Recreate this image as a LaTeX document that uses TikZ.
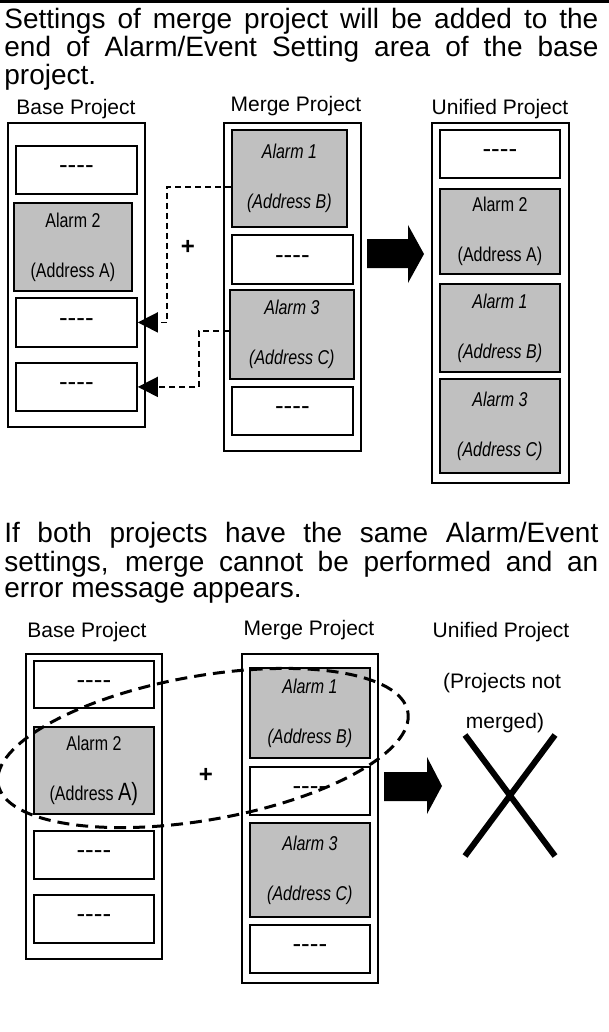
\documentclass[tikz,border=0pt]{standalone}
\usepackage{fontspec}
\setmainfont{Liberation Sans}
\newfontfamily\narrowfont[FakeStretch=0.8]{Liberation Sans}
\usetikzlibrary{arrows.meta}
\definecolor{alarmgray}{RGB}{192,192,192}
\newcommand{\blank}{\mbox{-}\mbox{-}\mbox{-}\mbox{-}}

\begin{document}
\begin{tikzpicture}[x=0.5pt,y=-0.5pt,
		outer/.style={draw,line width=0.8pt,anchor=north west,inner sep=0pt},
		wbox/.style={draw,fill=white,line width=0.9pt,anchor=north west,inner sep=0pt,font=\fontsize{13}{14}\selectfont},
		gbox/.style={wbox,fill=alarmgray,align=center,font=\narrowfont\fontsize{10}{25}\selectfont},
		ibox/.style={gbox,font=\narrowfont\itshape\fontsize{10}{25}\selectfont},
		boxsize/.style 2 args={minimum width=#1*0.5pt,minimum height=#2*0.5pt},
		title/.style={anchor=base,inner sep=0pt,font=\fontsize{10.5}{12}\selectfont},
		body/.style={anchor=base west,inner sep=0pt,align=left,font=\fontsize{14}{13}\selectfont},
		plus/.style={font=\bfseries\fontsize{12}{14}\selectfont},
		link/.style={line width=0.75pt,dash pattern=on 3pt off 2pt,-{Triangle[length=10pt,width=10pt]}}]
		\useasboundingbox (0,0) rectangle (609,1032);
		\draw[line width=1.5pt] (0,1.5) -- (609,1.5);
		% First case
		\node[body] (intro) at (4,85) {\makebox[297pt][s]{Settings of merge project will be added to the}\\
			\makebox[297pt][s]{end of Alarm/Event Setting area of the base}\\ project.};
		\node[title] (tbase) at (76,115) {Base Project};
		\node[title] (tmerge) at (296,112) {Merge Project};
		\node[title] (tunified) at (500,115) {Unified Project};
		% Base project
		\node[outer,boxsize={137}{304}] (base) at (7,122) {};
		\node[wbox,boxsize={121}{48}] (b1) at (15,145) {\blank};
		\node[gbox,boxsize={118}{88}] (b2) at (13,202) {Alarm 2\\(Address A)};
		\node[wbox,boxsize={121}{49}] (b3) at (15,297) {\blank};
		\node[wbox,boxsize={121}{48}] (b4) at (15,362) {\blank};
		% Merge project
		\node[outer,boxsize={137}{328}] (merge) at (223,122) {};
		\node[ibox,boxsize={115}{97}] (m1) at (231,129) {Alarm 1\\(Address B)};
		\node[wbox,boxsize={121}{49}] (m2) at (231,234) {\blank};
		\node[ibox,boxsize={124}{89}] (m3) at (229,289) {Alarm 3\\(Address C)};
		\node[wbox,boxsize={121}{48}] (m4) at (231,386) {\blank};
		% Unified project
		\node[outer,line width=1.1pt,boxsize={137}{360}] (unified) at (431,122) {};
		\node[wbox,boxsize={120}{48}] (u1) at (439,129) {\blank};
		\node[gbox,boxsize={120}{85}] (u2) at (439,188) {Alarm 2\\(Address A)};
		\node[ibox,boxsize={120}{88}] (u3) at (439,283) {Alarm 1\\(Address B)};
		\node[ibox,boxsize={120}{94}] (u4) at (439,378) {Alarm 3\\(Address C)};
		% Moved settings
		\draw[link] ([yshift=-4.25pt]m1.west) -- ++(-64,0) |- (b3.east);
		\draw[link] ([yshift=1.75pt]m3.west) -- ++(-30,0) |- (b4.east);
		\node[plus] (plus1) at (188,247) {+};
		\fill (367,239) -- (408,239) -- (408,225) -- (424,254) -- (408,283) -- (408,268) -- (367,268) -- cycle;
		% Second case
		\node[body] (error) at (4,597) {\makebox[297pt][s]{If both projects have the same Alarm/Event}\\
			\makebox[297pt][s]{settings, merge cannot be performed and an}\\ error message appears.};
		\node[title] (tbase2) at (87,637) {Base Project};
		\node[title] (tmerge2) at (309,635) {Merge Project};
		\node[title] (tunified2) at (501,637) {Unified Project};
		\node[title] (notmerged) at (502,688) {(Projects not};
		\node[title] (notmerged2) at (505,728) {merged)};
		% Base project
		\node[outer,boxsize={136}{305}] (base2) at (25,653) {};
		\node[wbox,boxsize={120}{47}] (c1) at (33,660) {\blank};
		\node[gbox,boxsize={120}{87}] (c2) at (33,726) {Alarm 2\\(Address {\fontsize{12.5}{25}\selectfont A)}};
		\node[wbox,boxsize={120}{48}] (c3) at (33,830) {\blank};
		\node[wbox,boxsize={120}{48}] (c4) at (33,894) {\blank};
		% Merge project
		\node[outer,boxsize={136}{329}] (merge2) at (241,653) {};
		\node[ibox,boxsize={120}{90}] (n1) at (249,667) {Alarm 1\\(Address B)};
		\node[wbox,boxsize={120}{48}] (n2) at (249,766) {\blank};
		\node[ibox,boxsize={120}{94}] (n3) at (249,822) {Alarm 3\\(Address C)};
		\node[wbox,boxsize={120}{48}] (n4) at (249,924) {\blank};
		\node[plus] (plus2) at (206,775) {+};
		\fill (384,772) -- (427,772) -- (427,757) -- (442,786) -- (427,814) -- (427,801) -- (384,801) -- cycle;
		\draw[line width=3pt] (465,735) -- (555,856) (555,735) -- (465,856);
		% Same settings
		\draw[line width=1.5pt,dash pattern=on 6pt off 3.5pt,rotate around={10:(203,748)}] (203,748) ellipse [x radius=208,y radius=72];
\end{tikzpicture}
\end{document}
